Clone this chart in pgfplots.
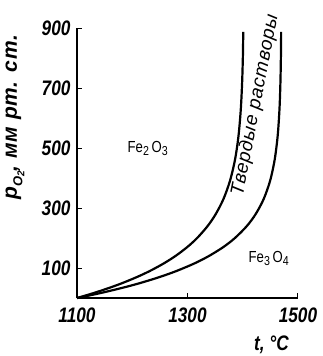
\documentclass[border=0pt]{standalone}
\usepackage{fontspec}
\setmainfont{Liberation Sans}[FakeStretch=0.82]
\newfontfamily\widefont{Liberation Sans}[LetterSpace=4]
\usepackage{pgfplots}
\pgfplotsset{compat=1.18}
\begin{document}
\begin{tikzpicture}
\useasboundingbox (-77pt,-58pt) rectangle (246pt,298pt);
\begin{axis}[
  scale only axis, width=221pt, height=270pt,
  xmin=1100, xmax=1500, ymin=0, ymax=900,
  axis lines=left, axis line style={-, line width=1.6pt},
  xtick={1100,1300,1500}, ytick={100,300,500,700,900},
  major tick length=5pt, tick style={line width=1pt, black},
  tick align=inside,
  /pgf/number format/assume math mode=true,
  /pgf/number format/1000 sep={},
  tick label style={font=\fontsize{21}{21}\selectfont\bfseries\itshape},
  xticklabel style={yshift=-6pt},
  yticklabel style={xshift=-3pt},
  clip=false,
]
\addplot[black, line width=2.2pt, smooth] coordinates {
(1100,0) (1118.6,10) (1136.1,20) (1160.3,35) (1182.4,50) (1208.6,70) (1231.8,90) (1256.8,115) (1278.2,140) (1299.7,170) (1317.5,200) (1336.5,240) (1351.2,280) (1365.1,330) (1376.8,390) (1385.9,460) (1392.3,540) (1396.5,630) (1398.9,720) (1400.3,810) (1400.9,887)};
\addplot[black, line width=2.2pt, smooth] coordinates {
(1100,0) (1126.4,10) (1150.9,20) (1184.5,35) (1214.5,50) (1249.7,70) (1280.0,90) (1312.2,115) (1338.8,140) (1365.0,170) (1385.9,200) (1407.5,240) (1423.5,280) (1437.9,330) (1449.4,390) (1457.7,460) (1463.2,540) (1466.5,630) (1468.2,720) (1469.1,810) (1469.5,887)};
\node[font=\fontsize{16}{16}\selectfont] at (axis cs:1228,500) {Fe\raisebox{-0.35ex}{\fontsize{13}{13}\selectfont 2}\,O\raisebox{-0.35ex}{\fontsize{13}{13}\selectfont 3}};
\node[font=\fontsize{16}{16}\selectfont] at (axis cs:1447,133) {Fe\raisebox{-0.35ex}{\fontsize{13}{13}\selectfont 3}\,O\raisebox{-0.35ex}{\fontsize{13}{13}\selectfont 4}};
\node[rotate=79, font=\fontsize{19}{19}\widefont\itshape] at (axis cs:1423,643) {Твердые растворы};
\node[rotate=90, font=\fontsize{21}{21}\widefont\bfseries\itshape] at ([xshift=-62pt]axis cs:1100,603) {p\raisebox{-0.5ex}{\fontsize{13}{13}\selectfont O\raisebox{-0.3ex}{\fontsize{10}{10}\selectfont 2}}, мм рт. ст.};
\node[font=\fontsize{21}{21}\selectfont\bfseries\itshape] at ([yshift=-47pt]axis cs:1452,0) {t, °C};
\end{axis}
\end{tikzpicture}
\end{document}
